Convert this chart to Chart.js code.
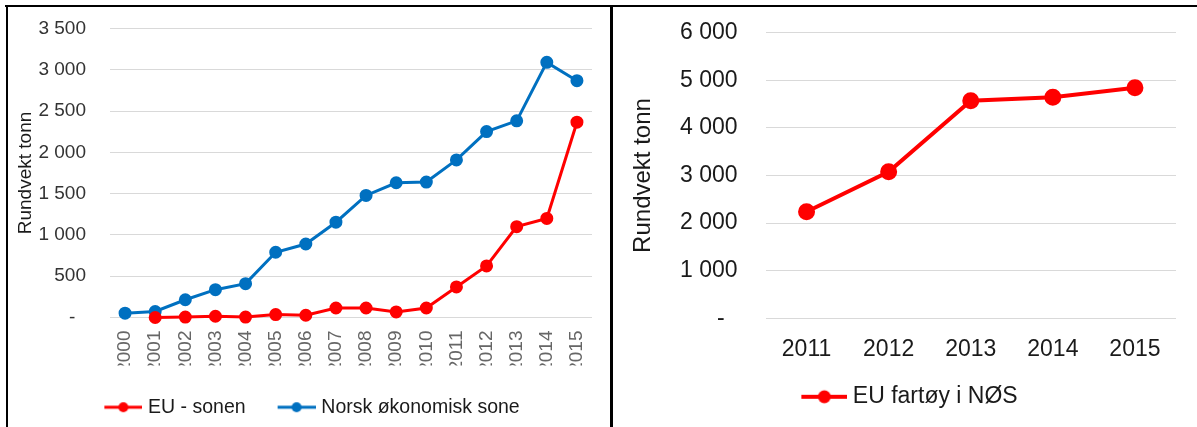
<!DOCTYPE html>
<html>
<head>
<meta charset="utf-8">
<script src="https://cdn.jsdelivr.net/npm/chart.js@4.4.1/dist/chart.umd.min.js"></script>
<style>
  html, body { margin: 0; padding: 0; background: #fff; }
  body { width: 1197px; height: 427px; position: relative; overflow: hidden; }
  .frame-top { position: absolute; left: 5px; top: 5px; width: 1192px; height: 2px; background: #000; }
  .frame-left { position: absolute; left: 6px; top: 5px; width: 2px; height: 422px; background: #000; }
  .frame-mid { position: absolute; left: 610px; top: 5px; width: 3px; height: 422px; background: #000; }
  #boxL { position: absolute; left: 8px; top: 7px; width: 602px; height: 420px; }
  #boxR { position: absolute; left: 613px; top: 7px; width: 584px; height: 420px; }
</style>
</head>
<body>
<div class="frame-top"></div>
<div class="frame-left"></div>
<div class="frame-mid"></div>
<div id="boxL"><canvas id="chartL"></canvas></div>
<div id="boxR"><canvas id="chartR"></canvas></div>
<script>
// ---- Data ----
const yearsLeft = ['2000','2001','2002','2003','2004','2005','2006','2007','2008','2009','2010','2011','2012','2013','2014','2015'];
const euSonen = [null, 0, 5, 15, 5, 35, 27, 115, 115, 67, 115, 370, 625, 1100, 1200, 2365];
const norskSone = [52, 73, 215, 337, 410, 790, 890, 1154, 1478, 1632, 1640, 1908, 2252, 2382, 3090, 2868];
const leftSeriesNames = ['EU - sonen', 'Norsk økonomisk sone'];
const yearsRight = ['2011','2012','2013','2014','2015'];
const euFartoy = [2240, 3080, 4571, 4643, 4845];
const rightSeriesNames = ['EU fartøy i NØS'];
const axisTitle = 'Rundvekt tonn';

const RED = '#FF0000';
const BLUE = '#0070C0';
const FONT = "'Liberation Sans', Arial, sans-serif";

function fmt(v) {
  if (v === 0) return '-  ';
  return String(v).replace(/\B(?=(\d{3})+(?!\d))/g, ' ');
}

// Legend symbol: line with a dot, drawn as an image point style
function legendSymbol(color, imgW, lineFrom, lineW, r, h) {
  const c = document.createElement('canvas');
  c.width = imgW; c.height = h;
  const ctx = c.getContext('2d');
  ctx.strokeStyle = color; ctx.lineWidth = lineW;
  ctx.beginPath(); ctx.moveTo(lineFrom, h / 2); ctx.lineTo(imgW, h / 2); ctx.stroke();
  ctx.fillStyle = color;
  ctx.beginPath(); ctx.arc((lineFrom + imgW) / 2, h / 2, r, 0, Math.PI * 2); ctx.fill();
  return c;
}

Chart.defaults.font.family = FONT;
Chart.defaults.animation = false;

const symL = {
  [RED]: legendSymbol(RED, 42, 4, 3, 5, 14),
  [BLUE]: legendSymbol(BLUE, 42, 4, 3, 5, 14)
};
const symR = { [RED]: legendSymbol(RED, 52, 6, 4, 6.5, 16) };

function makeLegend(fontSize, pointW, pad, syms) {
  return {
    position: 'bottom',
    labels: {
      usePointStyle: true,
      pointStyleWidth: pointW,
      padding: pad,
      color: '#1a1a1a',
      font: { size: fontSize, family: FONT },
      generateLabels(chart) {
        const items = Chart.defaults.plugins.legend.labels.generateLabels(chart);
        items.forEach(it => { it.pointStyle = syms[it.strokeStyle] || it.pointStyle; });
        return items;
      }
    }
  };
}

// ---- Left chart ----
new Chart(document.getElementById('chartL'), {
  type: 'line',
  data: {
    labels: yearsLeft,
    datasets: [
      { label: leftSeriesNames[0], data: euSonen, borderColor: RED, backgroundColor: RED,
        pointBackgroundColor: RED, pointBorderColor: RED, borderWidth: 3, pointRadius: 5, pointHoverRadius: 5, clip: false, spanGaps: false },
      { label: leftSeriesNames[1], data: norskSone, borderColor: BLUE, backgroundColor: BLUE,
        pointBackgroundColor: BLUE, pointBorderColor: BLUE, borderWidth: 3, pointRadius: 5, pointHoverRadius: 5, clip: false }
    ]
  },
  options: {
    responsive: true,
    maintainAspectRatio: false,
    layout: { padding: { top: 21.5, right: 18, left: 24, bottom: 0 } },
    plugins: {
      legend: makeLegend(19.5, 34, 32, symL),
      tooltip: { enabled: false }
    },
    scales: {
      x: {
        offset: true,
        grid: { display: false, drawTicks: false, offset: true },
        border: { display: false },
        ticks: { color: '#666666', font: { size: 19 }, minRotation: 90, maxRotation: 90, padding: 13, autoSkip: false },
        afterFit(s) { s.height = 48; s.paddingLeft = 0; s.paddingRight = 0; }
      },
      y: {
        min: 0, max: 3500,
        grid: { color: '#d9d9d9', lineWidth: 1, drawTicks: false },
        border: { display: false },
        ticks: { stepSize: 500, color: '#333333', font: { size: 19 }, padding: 24, callback: v => fmt(v) },
        title: { display: true, text: axisTitle, color: '#1a1a1a', font: { size: 19 }, padding: { top: -17.5, bottom: 0 } },
        afterFit(s) { s.width = 78; s.paddingTop = 10; s.paddingBottom = 10; }
      }
    }
  }
});

// ---- Right chart ----
new Chart(document.getElementById('chartR'), {
  type: 'line',
  data: {
    labels: yearsRight,
    datasets: [
      { label: rightSeriesNames[0], data: euFartoy, borderColor: RED, backgroundColor: RED,
        pointBackgroundColor: RED, pointBorderColor: RED, borderWidth: 4, pointRadius: 6.5, pointHoverRadius: 6.5, clip: false }
    ]
  },
  options: {
    responsive: true,
    maintainAspectRatio: false,
    layout: { padding: { top: 25.7, right: 21, left: 30, bottom: 8.7 } },
    plugins: {
      legend: makeLegend(23, 40, 10, symR),
      tooltip: { enabled: false }
    },
    scales: {
      x: {
        offset: true,
        grid: { display: false, drawTicks: false, offset: true },
        border: { display: false },
        ticks: { color: '#1a1a1a', font: { size: 23 }, maxRotation: 0, padding: 18 },
        afterFit(s) { s.height = 57; s.paddingLeft = 0; s.paddingRight = 0; }
      },
      y: {
        min: 0, max: 6000,
        grid: { color: '#d9d9d9', lineWidth: 1, drawTicks: false },
        border: { display: false },
        ticks: { stepSize: 1000, color: '#1a1a1a', font: { size: 23 }, padding: 28, callback: v => fmt(v) },
        title: { display: true, text: axisTitle, color: '#1a1a1a', font: { size: 24 }, padding: { top: -14.5, bottom: 0 } },
        afterFit(s) { s.width = 122.5; s.paddingTop = 12; s.paddingBottom = 12; }
      }
    }
  }
});
</script>
</body>
</html>
